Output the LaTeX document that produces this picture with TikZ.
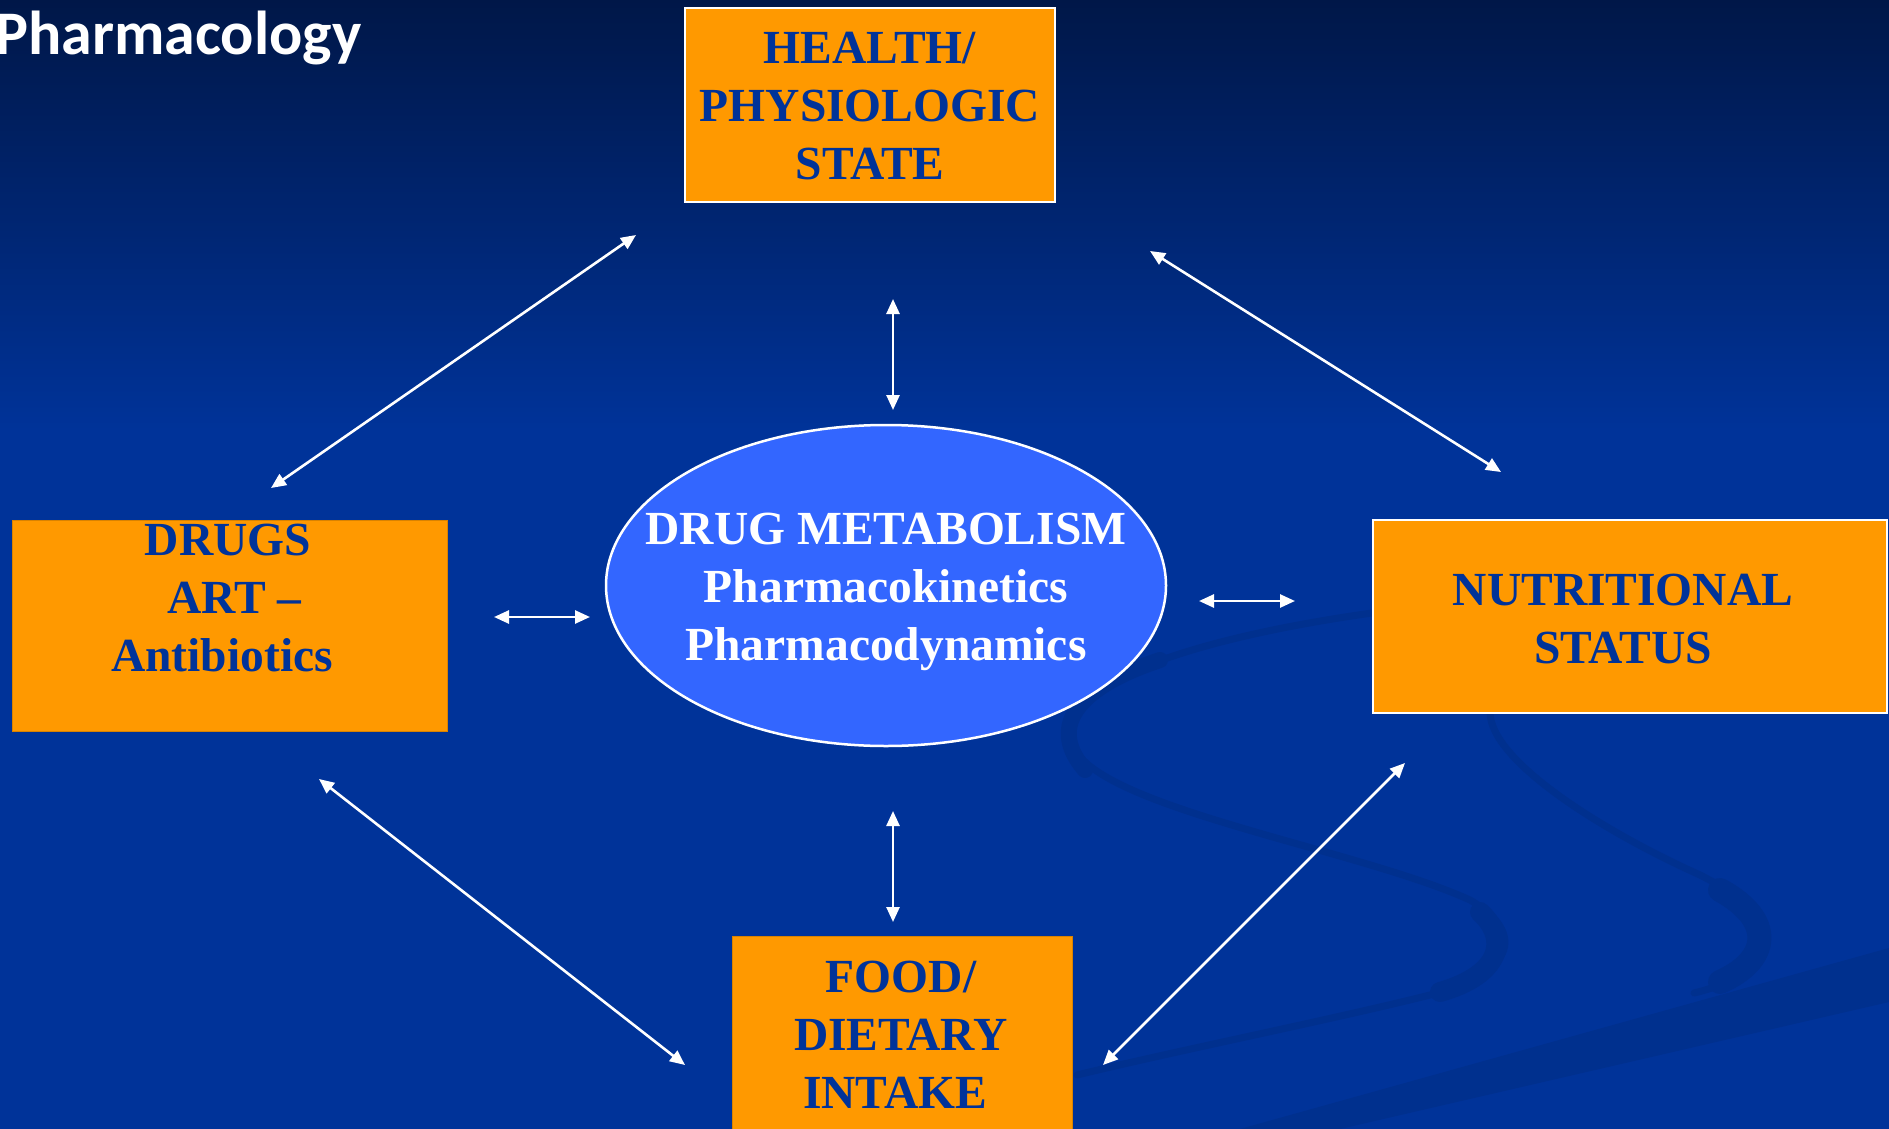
\documentclass[tikz,border=0pt]{standalone}
\usepackage{fontspec}
\setmainfont{Liberation Serif}
\newfontfamily\titlefont{Carlito}
\usetikzlibrary{arrows.meta,shapes.geometric}
\definecolor{bgdark}{HTML}{001748}
\definecolor{bgblue}{HTML}{003399}
\definecolor{swoosh}{HTML}{00308E}
\definecolor{boxorange}{HTML}{FF9900}
\definecolor{boxtext}{HTML}{003399}
\definecolor{ellfill}{HTML}{3366FF}
\definecolor{boxedge}{HTML}{D98200}
\begin{document}
\begin{tikzpicture}[x=1pt,y=-1pt,
  boxbase/.style={rectangle, fill=boxorange, inner sep=0pt},
  whiteedge/.style={draw=white, line width=2.5pt},
  plainedge/.style={draw=boxedge, line width=1pt},
  boxlabel/.style={font=\bfseries\fontsize{47.5}{58}\selectfont, text=boxtext, align=center, inner sep=0pt},
  elllabel/.style={font=\bfseries\fontsize{47.5}{58}\selectfont, text=white, align=center, inner sep=0pt},
  conn/.style={draw=white, line width=2.6pt, {Triangle[length=15pt,width=13pt]}-{Triangle[length=15pt,width=13pt]}},
  swooshline/.style={draw=swoosh, line cap=round}
]
\useasboundingbox (0,0) rectangle (1889,1129);
\clip (0,0) rectangle (1889,1129);
% background
\fill[bgblue] (0,0) rectangle (1889,1129);
\shade[top color=bgdark, bottom color=bgblue] (0,0) rectangle (1889,430);
% decorative swooshes
\draw[swooshline, line width=7pt] (1372,613) .. controls (1180,640) and (1040,690) .. (1075,750)
  .. controls (1110,810) and (1360,850) .. (1470,900)
  .. controls (1530,935) and (1510,975) .. (1430,995)
  .. controls (1330,1020) and (1180,1050) .. (1077,1075);
\draw[swooshline, line width=16pt] (1160,660) .. controls (1070,690) and (1050,730) .. (1085,770);
\draw[swooshline, line width=20pt] (1480,912) .. controls (1510,940) and (1500,975) .. (1440,992);
\draw[swooshline, line width=7pt] (1490,712) .. controls (1490,760) and (1600,830) .. (1700,875)
  .. controls (1800,925) and (1770,975) .. (1694,993);
\draw[swooshline, line width=24pt] (1720,890) .. controls (1775,920) and (1770,960) .. (1720,982);
\fill[swoosh] (1240,1129) -- (1889,948) -- (1889,1002) -- (1340,1129) -- cycle;

% title
\node[anchor=base west, inner sep=0pt, text=white, font=\titlefont\bfseries\fontsize{62}{70}\selectfont] (title) at (-5,55) {Pharmacology};

% boxes
\node[boxbase, whiteedge, minimum width=370pt, minimum height=194pt] (health) at (870,105) {};
\node[boxlabel] (healthT) at (870,106) {HEALTH/\\PHYSIOLOGIC\\STATE};

\node[boxbase, plainedge, minimum width=435pt, minimum height=211pt] (drugs) at (229.5,625.5) {};
\node[boxlabel] (drugsT) at (228,598) {DRUGS\\\hspace*{13pt}ART --\\Antibiotics\hspace*{12pt}};

\node[boxbase, whiteedge, minimum width=514pt, minimum height=193pt] (nutr) at (1630,616.5) {};
\node[boxlabel] (nutrT) at (1623,619) {NUTRITIONAL\\STATUS};

\node[boxbase, plainedge, minimum width=340pt, minimum height=240pt] (food) at (902,1056) {};
\node[boxlabel] (foodT) at (901,1035) {FOOD/\\DIETARY\\INTAKE\hspace*{12pt}};

% ellipse
\node[ellipse, fill=ellfill, draw=white, line width=2.5pt, minimum width=560pt, minimum height=321pt, inner sep=0pt] (metab) at (886,585.5) {};
\node[elllabel] (metabT) at (886,592) {DRUG METABOLISM\\Pharmacokinetics\\Pharmacodynamics};

% connector end points
\coordinate (hdA) at (636,235);  \coordinate (hdB) at (271,488);
\coordinate (hmA) at (893,299);  \coordinate (hmB) at (893,410);
\coordinate (hnA) at (1150,251); \coordinate (hnB) at (1501,472);
\coordinate (dmA) at (494,617);  \coordinate (dmB) at (590,617);
\coordinate (mnA) at (1199,601); \coordinate (mnB) at (1295,601);
\coordinate (mfA) at (893,811);  \coordinate (mfB) at (893,922);
\coordinate (dfA) at (319,779);  \coordinate (dfB) at (685,1065);
\coordinate (fnA) at (1103,1065); \coordinate (fnB) at (1405,763);

\draw[conn] (hdA) -- (hdB);
\draw[conn] (hmA) -- (hmB);
\draw[conn] (hnA) -- (hnB);
\draw[conn] (dmA) -- (dmB);
\draw[conn] (mnA) -- (mnB);
\draw[conn] (mfA) -- (mfB);
\draw[conn] (dfA) -- (dfB);
\draw[conn] (fnA) -- (fnB);
\end{tikzpicture}
\end{document}
